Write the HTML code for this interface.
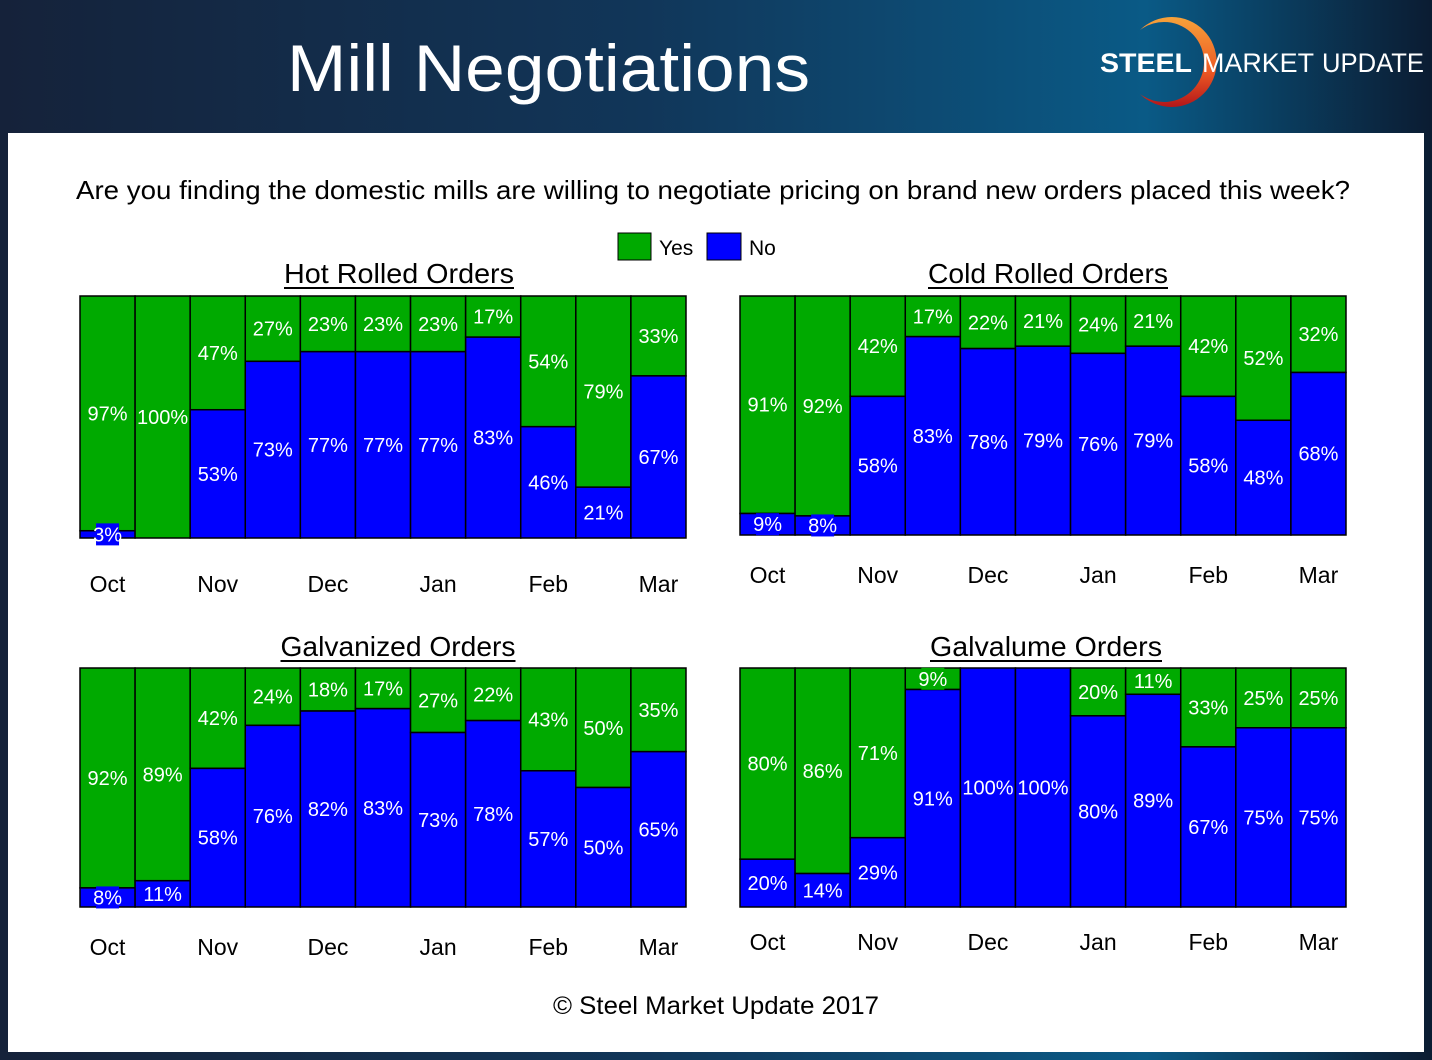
<!DOCTYPE html>
<html><head><meta charset="utf-8"><style>
html,body{margin:0;padding:0;width:1432px;height:1060px;overflow:hidden;background:#12223a;}
svg{display:block;font-family:"Liberation Sans",sans-serif;}
</style></head><body>
<svg id="s" width="1432" height="1060" viewBox="0 0 1432 1060">
<defs>
<linearGradient id="bg" x1="0" y1="0" x2="1" y2="0">
<stop offset="0" stop-color="#15223a"/><stop offset="0.45" stop-color="#113659"/><stop offset="0.8" stop-color="#0a5a86"/><stop offset="1" stop-color="#0b1c32"/></linearGradient>
<linearGradient id="arc" x1="0" y1="0" x2="0" y2="1"><stop offset="0" stop-color="#f7a23a"/><stop offset="0.6" stop-color="#ee5a24"/><stop offset="1" stop-color="#b3161a"/></linearGradient>
</defs>
<rect x="0" y="0" width="1432" height="1060" fill="url(#bg)"/>
<text x="287" y="91" font-size="66" fill="#fff" textLength="523" lengthAdjust="spacingAndGlyphs">Mill Negotiations</text>
<g>
<path d="M1140 30 A45 45 0 1 1 1140 94 A40 40 0 1 0 1140 30 Z" fill="url(#arc)" transform="translate(0,0)"/>
<text x="1100" y="72" font-size="27" font-weight="bold" fill="#fff" textLength="92" lengthAdjust="spacingAndGlyphs">STEEL</text>
<text x="1202" y="72" font-size="27" fill="#fff" textLength="112" lengthAdjust="spacingAndGlyphs">MARKET</text>
<text x="1322" y="72" font-size="27" fill="#fff" font-weight="normal" textLength="102" lengthAdjust="spacingAndGlyphs">UPDATE</text>
</g>
<rect x="8" y="133" width="1416" height="919" fill="#fff"/>
<text x="76" y="199" font-size="26" fill="#000" textLength="1274" lengthAdjust="spacingAndGlyphs">Are you finding the domestic mills are willing to negotiate pricing on brand new orders placed this week?</text>
<g>
<rect x="618" y="233" width="33" height="27" fill="#00aa00" stroke="#000"/>
<text x="659" y="255" font-size="21">Yes</text>
<rect x="707" y="233" width="34" height="27" fill="#0000ff" stroke="#000"/>
<text x="749" y="255" font-size="21">No</text>
</g>
<text x="716" y="1014" font-size="25" text-anchor="middle" textLength="326" lengthAdjust="spacingAndGlyphs">© Steel Market Update 2017</text>
</svg>
<script>
const months = ["Oct","Nov","Dec","Jan","Feb","Mar"];
const hrYes = [97,100,47,27,23,23,23,17,54,79,33];
const hrNo  = [3,0,53,73,77,77,77,83,46,21,67];
const crYes = [91,92,42,17,22,21,24,21,42,52,32];
const crNo  = [9,8,58,83,78,79,76,79,58,48,68];
const gzYes = [92,89,42,24,18,17,27,22,43,50,35];
const gzNo  = [8,11,58,76,82,83,73,78,57,50,65];
const glYes = [80,86,71,9,0,0,20,11,33,25,25];
const glNo  = [20,14,29,91,100,100,80,89,67,75,75];

const NS="http://www.w3.org/2000/svg";
const svg=document.getElementById('s');
function mk(t,a,p){const e=document.createElementNS(NS,t);for(const k in a)e.setAttribute(k,a[k]);(p||svg).appendChild(e);return e;}

function chart(id,title,x0,y0,w,h,titleX,titleW,titleY,monthY,yes,no){
  const g=mk('g',{});
  
  
  const n=yes.length, bw=w/n;
  const ys=v=>h*v/100;
  const labels=[];
  for(let i=0;i<n;i++){
    const bx=x0+i*bw, tot=yes[i]+no[i];
    const hy=ys(yes[i]*100/tot), hn=ys(no[i]*100/tot);
    if(yes[i]>0){
      const r=mk('rect',{x:bx,y:y0,width:bw,height:hy,fill:'#00aa00',stroke:'#000','stroke-width':1.5},g);
      
      
      labels.push([bx+bw/2,y0+hy/2,yes[i]+'%','#00aa00','yes-'+i]);
    }
    if(no[i]>0){
      const r=mk('rect',{x:bx,y:y0+hy,width:bw,height:hn,fill:'#0000ff',stroke:'#000','stroke-width':1.5},g);
      
      
      labels.push([bx+bw/2,y0+hy+hn/2,no[i]+'%','#0000ff','no-'+i]);
    }
  }
  labels.forEach(l=>{
    const tw=l[2].length*11.5;
    const b=mk('rect',{x:l[0]-tw/2,y:l[1]-11,width:tw,height:22,fill:l[3]},g);
    
    
    const t=mk('text',{x:l[0],y:l[1]+7,'font-size':20,fill:'#fff','text-anchor':'middle'},g);
    t.textContent=l[2];
    
    
  });
  months.forEach((m,k)=>{
    const t=mk('text',{x:x0+(2*k+0.5)*bw,y:monthY,'font-size':23,'text-anchor':'middle'},g);
    t.textContent=m;
    
    
  });
  const tt=mk('text',{x:titleX,y:titleY,'font-size':28,'text-anchor':'middle',textLength:titleW,lengthAdjust:'spacingAndGlyphs'},g);
  tt.textContent=title;
  
  
  const u=mk('rect',{x:titleX-titleW/2,y:titleY+4,width:titleW,height:2,fill:'#000'},g);
  
  
}
chart('hr','Hot Rolled Orders',80,296,606,242,399,230,283,592,hrYes,hrNo);
chart('cr','Cold Rolled Orders',740,296,606,239,1048,240,283,583,crYes,crNo);
chart('gz','Galvanized Orders',80,668,606,239,398,235,656,955,gzYes,gzNo);
chart('gl','Galvalume Orders',740,668,606,239,1046,232,656,950,glYes,glNo);
</script>
</body></html>
